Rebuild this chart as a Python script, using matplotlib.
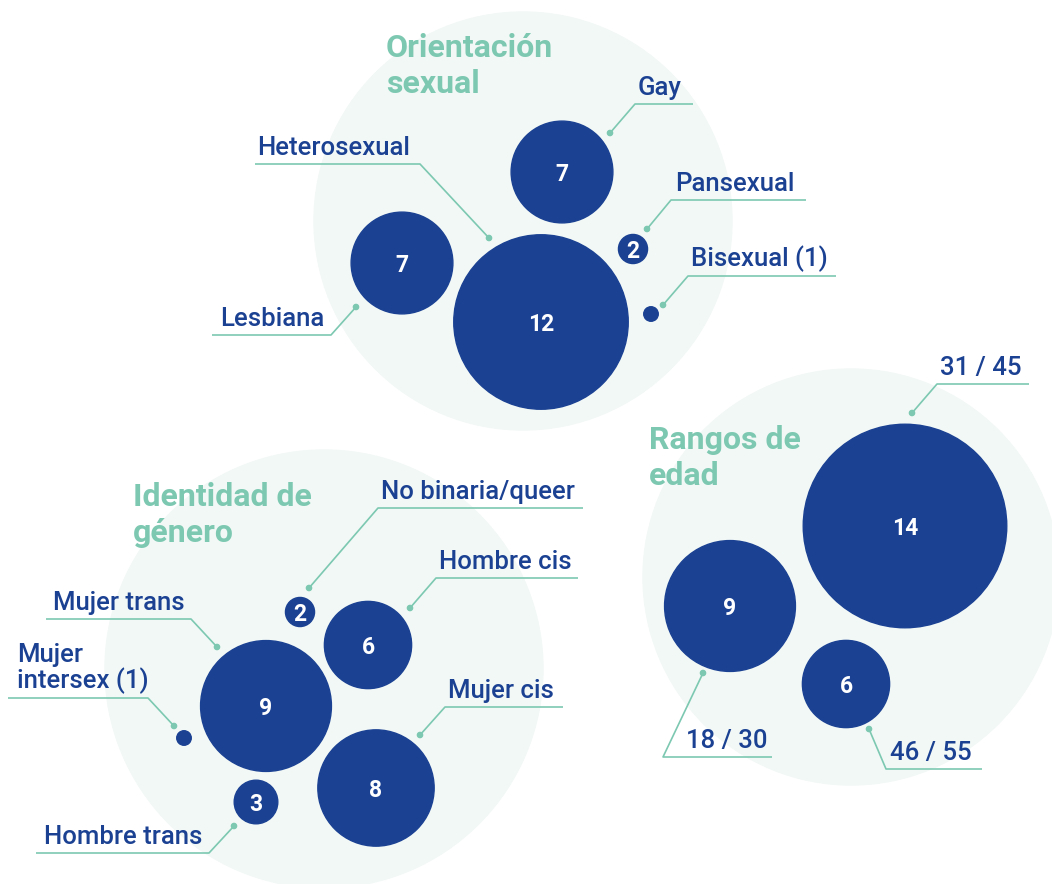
import matplotlib.pyplot as plt
from matplotlib.patches import Circle

plt.rcParams['font.family'] = ['Roboto', 'DejaVu Sans']

# datos de cada grupo
orient_labels = ['Heterosexual', 'Gay', 'Lesbiana', 'Pansexual', 'Bisexual (1)']
orient_values = [12, 7, 7, 2, 1]

edad_labels = ['31 / 45', '18 / 30', '46 / 55']
edad_values = [14, 9, 6]

genero_labels = ['Mujer trans', 'Mujer cis', 'Hombre cis', 'Hombre trans',
                 'No binaria/queer', 'Mujer\nintersex (1)']
genero_values = [9, 8, 6, 3, 2, 1]

# colores
AZUL = '#1b4193'
MENTA = '#7cc8b1'
FONDO = '#f1f8f5'
ESCALA = 7.27  # px de radio por persona

# posiciones (px): centro, punto, codo, fin de la linea, x del texto
orient_layout = [
    ((541, 322), (489, 238), (420, 164), 255, 257),
    ((562, 172), (610, 133), (635, 104), 693, 638),
    ((402, 263), (356, 307), (331, 335), 212, 220),
    ((633, 249), (647, 229), (671, 200), 806, 675),
    ((651, 314), (663, 305), (688, 276), 836, 691),
]
edad_layout = [
    ((905, 526), (912, 413), (937, 384), 1029, 940),
    ((730, 606), (703, 673), (663, 757), 772, 686),
    ((846, 684), (869, 729), (886, 769), 982, 890),
]
genero_layout = [
    ((266, 706), (217, 647), (191, 619), 46, 53),
    ((376, 788), (420, 735), (445, 707), 563, 448),
    ((368, 645), (410, 608), (436, 578), 578, 439),
    ((256, 802), (234, 826), (209, 853), 36, 44),
    ((300, 612), (309, 588), (378, 508), 583, 381),
    ((184, 738), (174, 726), (148, 698), 8, 17),
]

# titulo: centro y radio del fondo, posicion (x, linea base de la ultima linea)
grupos = [
    ('Orientación\nsexual', (523, 221), 209, (386, 93), orient_labels, orient_values, orient_layout),
    ('Rangos de\nedad', (851, 577), 208, (649, 485), edad_labels, edad_values, edad_layout),
    ('Identidad de\ngénero', (324, 669), 219, (133, 542), genero_labels, genero_values, genero_layout),
]

fig = plt.figure(figsize=(10.52, 8.84), dpi=100)
ax = fig.add_axes([0, 0, 1, 1])
ax.set_xlim(0, 1052)
ax.set_ylim(884, 0)
ax.axis('off')

for titulo, centro, radio, pos_t, labels, values, layout in grupos:
    ax.add_patch(Circle(centro, radio, color=FONDO, zorder=0))
    ax.text(pos_t[0], pos_t[1], titulo, color=MENTA, fontsize=23, fontweight='bold',
            va='baseline', ha='left', linespacing=1.25, zorder=5)
    for lab, val, (c, p, e, hx, tx) in zip(labels, values, layout):
        ax.add_patch(Circle(c, val * ESCALA, color=AZUL, zorder=2))
        if val > 1:
            ax.text(c[0], c[1], str(val), color='white', fontsize=16.5, fontweight='bold',
                    ha='center', va='center_baseline', zorder=3)
        ax.plot([p[0], e[0], hx], [p[1], e[1], e[1]], color=MENTA, lw=1.2, zorder=1,
                solid_capstyle='butt')
        ax.add_patch(Circle(p, 2.6, color=MENTA, zorder=1))
        ax.text(tx, e[1] - 4, lab, color=AZUL, fontsize=18.5, fontweight='medium',
                ha='left', va='bottom', linespacing=1.0, zorder=4)

fig.savefig('out.png', dpi=100)
